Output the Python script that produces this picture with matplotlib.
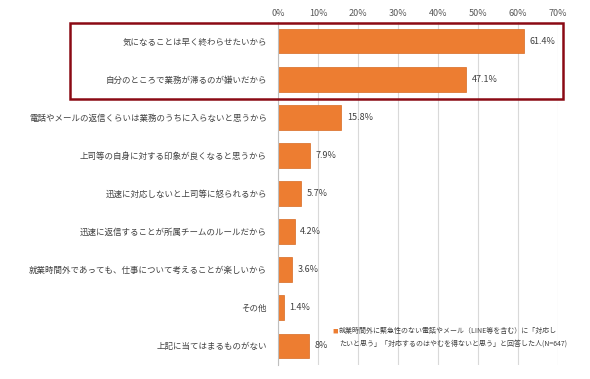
import matplotlib
matplotlib.use("Agg")
import matplotlib.pyplot as plt
from matplotlib.patches import Rectangle

plt.rcParams['font.family'] = ['Noto Sans CJK JP', 'DejaVu Sans']

categories = [
    "気になることは早く終わらせたいから",
    "自分のところで業務が滞るのが嫌いだから",
    "電話やメールの返信くらいは業務のうちに入らないと思うから",
    "上司等の自身に対する印象が良くなると思うから",
    "迅速に対応しないと上司等に怒られるから",
    "迅速に返信することが所属チームのルールだから",
    "就業時間外であっても、仕事について考えることが楽しいから",
    "その他",
    "上記に当てはまるものがない",
]
values = [61.4, 47.1, 15.8, 7.9, 5.7, 4.2, 3.6, 1.4, 7.8]
value_labels = ["61.4%", "47.1%", "15.8%", "7.9%", "5.7%", "4.2%", "3.6%", "1.4%", "8%"]
xticks = [0, 10, 20, 30, 40, 50, 60, 70]
xtick_labels = ["0%", "10%", "20%", "30%", "40%", "50%", "60%", "70%"]
legend_text = ("就業時間外に緊急性のない電話やメール（LINE等を含む）に「対応し\n"
               "たいと思う」「対応するのはやむを得ないと思う」と回答した人(N=647)")

W, H = 590, 379
fig = plt.figure(figsize=(W / 100, H / 100), dpi=100)
left, right, top, bottom = 278, 558, 22, 365
ax = fig.add_axes([left / W, 1 - bottom / H, (right - left) / W, (bottom - top) / H])

n = len(categories)
ypos = list(range(n))
ax.barh(ypos, values, height=0.65, color="#ED7D31", edgecolor="#D86A22", linewidth=0.5, zorder=3)
ax.set_ylim(n - 0.5, -0.5)
ax.set_xlim(0, 70)

ax.set_xticks(xticks)
ax.set_xticklabels(xtick_labels)
ax.xaxis.tick_top()
ax.tick_params(axis='x', length=0, pad=3, labelsize=6.5, labelcolor="#595959")
ax.set_yticks(ypos)
ax.set_yticklabels(categories)
ax.tick_params(axis='y', length=0, pad=8, labelsize=6.1, labelcolor="#404040")

ax.grid(axis='x', color="#D9D9D9", linewidth=0.8, zorder=0)
for s in ["top", "right", "bottom"]:
    ax.spines[s].set_visible(False)
ax.spines["left"].set_color("#BFBFBF")
ax.spines["left"].set_linewidth(0.8)
ax.spines["left"].set_zorder(4)

for y, v, lab in zip(ypos, values, value_labels):
    ax.annotate(lab, (v, y), xytext=(4, 0), textcoords="offset points",
                va="center", ha="left", fontsize=6.5, color="#404040", zorder=5)

# legend (text inside plot area)
fig.text(335 / W, 1 - 331 / H, "■", fontsize=4, color="#ED7D31", va="center", ha="center")
fig.text(339 / W, 1 - 337.5 / H, legend_text, fontsize=5.0, color="#404040",
         va="center", ha="left", linespacing=1.7)

# highlight box
rect = Rectangle((70 / W, 1 - 98.5 / H), (563 - 70) / W, (98.5 - 22.5) / H,
                 transform=fig.transFigure, fill=False, edgecolor="#8B0A14",
                 linewidth=1.8, zorder=10)
fig.patches.append(rect)

fig.savefig("out.png", dpi=100)
